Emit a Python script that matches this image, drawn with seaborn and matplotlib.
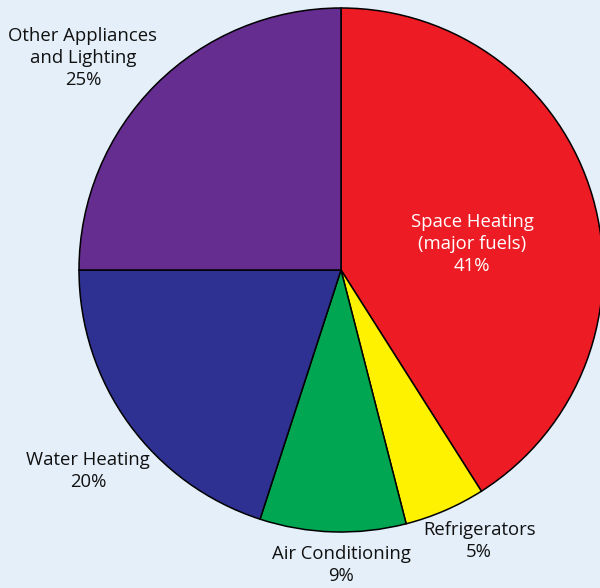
import matplotlib
matplotlib.use("Agg")
import matplotlib.pyplot as plt
import seaborn as sns

# ===============================
# DATA
# ===============================
categories = ["Space Heating\n(major fuels)", "Refrigerators", "Air Conditioning",
              "Water Heating", "Other Appliances\nand Lighting"]
shares = [41, 5, 9, 20, 25]
colors = ["#ed1c24", "#fff200", "#00a651", "#2e3192", "#662d91"]
text_colors = ["white", "#111111", "#111111", "#111111", "#111111"]
# label anchor (x, y) in pie radius units
label_pos = [(0.50, 0.10), (0.527, -1.034), (0.0, -1.126), (-0.966, -0.767), (-0.985, 0.81)]

bg = "#e4eff9"

sns.set_style("white")
plt.rcParams["font.family"] = ["Open Sans", "DejaVu Sans"]

fig = plt.figure(figsize=(6.0, 5.88), dpi=100)
fig.patch.set_facecolor(bg)

# pie centre at (341, 270) px, radius 262 px
ax = fig.add_axes([(341 - 262) / 600, (588 - 532) / 588, 524 / 600, 524 / 588])
ax.set_facecolor(bg)

wedges, _ = ax.pie(shares, colors=colors, startangle=90, counterclock=False,
                   radius=1.0,
                   wedgeprops=dict(edgecolor="black", linewidth=1.1))
ax.set_xlim(-1, 1)
ax.set_ylim(-1, 1)
ax.set_aspect("equal")
ax.axis("off")

for cat, val, (lx, ly), tc in zip(categories, shares, label_pos, text_colors):
    ax.text(lx, ly, f"{cat}\n{val}%", ha="center", va="center",
            fontsize=13.3, color=tc, linespacing=1.29, clip_on=False)

fig.savefig("out.png", dpi=100, facecolor=bg)
